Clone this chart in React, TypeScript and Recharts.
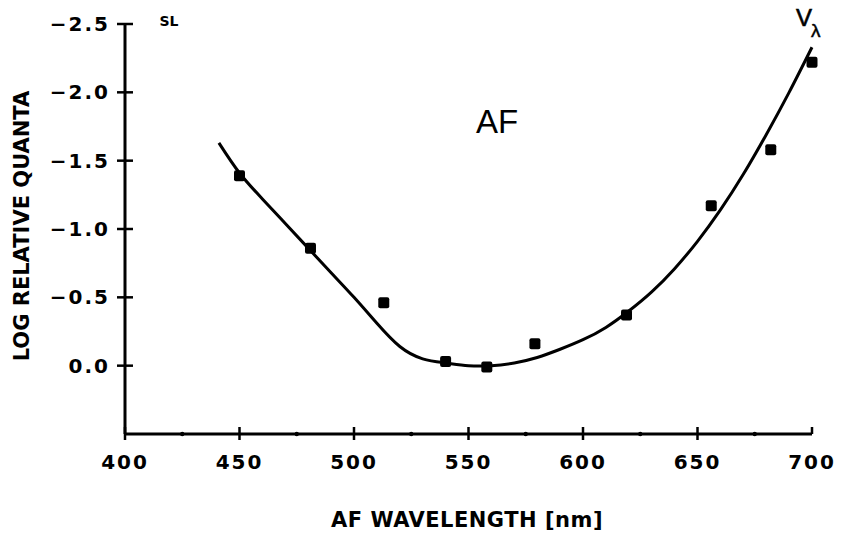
import {
  ComposedChart,
  Customized,
  Line,
  Scatter,
  XAxis,
  YAxis,
} from 'recharts'

// fitted curve
const curveNm = [441, 450, 460, 470, 480, 490, 500, 510, 520, 530, 540, 550, 560, 570, 580, 590, 600, 610, 620, 630, 640, 650, 660, 670, 680, 690, 700]
const curveLog = [-1.63, -1.41, -1.22, -1.04, -0.86, -0.68, -0.5, -0.31, -0.14, -0.05, -0.02, 0.0, 0.0, -0.02, -0.06, -0.12, -0.19, -0.28, -0.4, -0.54, -0.71, -0.91, -1.14, -1.4, -1.69, -2.0, -2.33]

// measured points
const pointNm = [450, 481, 513, 540, 558, 579, 619, 656, 682, 700]
const pointLog = [-1.39, -0.86, -0.46, -0.03, 0.01, -0.16, -0.37, -1.17, -1.58, -2.22]

const xTicks = [400, 425, 450, 475, 500, 525, 550, 575, 600, 625, 650, 675, 700]
const yTicks = [-2.5, -2.0, -1.5, -1.0, -0.5, 0.0]

const curve = curveNm.map((nm, i) => ({ nm, v: curveLog[i] }))
const points = pointNm.map((nm, i) => ({ nm, v: pointLog[i] }))

const FONT = '"DejaVu Sans", sans-serif'

const fmt = (v: number) => (v < 0 ? '\u2212' + Math.abs(v).toFixed(1) : v.toFixed(1))

function XTick({ x, y, payload }: any) {
  const v = payload.value as number
  if (v % 50 !== 0) {
    return <circle cx={x} cy={y} r={2.2} fill="#000" />
  }
  return (
    <g>
      <line x1={x} x2={x} y1={y - 7} y2={v === 700 ? y : y + 6} stroke="#000" strokeWidth={2.5} />
      <text
        x={x}
        y={y + 35}
        textAnchor="middle"
        fontFamily={FONT}
        fontWeight="bold"
        fontSize={20}
        letterSpacing={2}
        fill="#000"
      >
        {v}
      </text>
    </g>
  )
}

function YTick({ x, y, payload }: any) {
  const v = payload.value as number
  return (
    <g>
      <line x1={x - 8} x2={x + 8} y1={y} y2={y} stroke="#000" strokeWidth={2.5} />
      <text
        x={x - 15}
        y={y + 7}
        textAnchor="end"
        fontFamily={FONT}
        fontWeight="bold"
        fontSize={20}
        letterSpacing={2}
        fill="#000"
      >
        {fmt(v)}
      </text>
    </g>
  )
}

function Square({ cx, cy }: any) {
  return <rect x={cx - 5.5} y={cy - 5.5} width={11} height={11} rx={2} fill="#000" />
}

function Annotations() {
  return (
    <g fontFamily={FONT} fill="#000">
      <text
        x={22}
        y={226}
        transform="rotate(-90 22 226)"
        textAnchor="middle"
        dominantBaseline="central"
        fontWeight="bold"
        fontSize={21}
      >
        LOG RELATIVE QUANTA
      </text>
      <text x={467} y={527} textAnchor="middle" fontWeight="bold" fontSize={21} letterSpacing={0.5}>
        AF WAVELENGTH [nm]
      </text>
      <text x={497} y={133} textAnchor="middle" fontFamily='"Liberation Sans", sans-serif' fontSize={33}>
        AF
      </text>
      <text x={169} y={26} textAnchor="middle" fontWeight="bold" fontSize={14}>
        SL
      </text>
      <text x={796} y={26} fontFamily='"Liberation Sans", sans-serif' fontSize={24} stroke="#000" strokeWidth={0.6}>
        V
      </text>
      <text x={811} y={37} fontFamily='"Liberation Sans", sans-serif' fontSize={19} stroke="#000" strokeWidth={0.5}>
        λ
      </text>
    </g>
  )
}

export default function App() {
  return (
    <div style={{ position: 'absolute', left: 0, top: 0, width: 841, height: 541, background: '#fff' }}>
      <ComposedChart width={841} height={541} margin={{ top: 24, right: 29, bottom: 77, left: 65 }}>
        <XAxis
          type="number"
          dataKey="nm"
          domain={[400, 700]}
          ticks={xTicks}
          interval={0}
          tickLine={false}
          tickSize={0}
          tickMargin={0}
          tick={<XTick />}
          axisLine={{ stroke: '#000', strokeWidth: 3 }}
          height={30}
        />
        <YAxis
          type="number"
          dataKey="v"
          domain={[-2.5, 0.5]}
          reversed
          ticks={yTicks}
          interval={0}
          tickLine={false}
          tickSize={0}
          tickMargin={0}
          tick={<YTick />}
          axisLine={{ stroke: '#000', strokeWidth: 3 }}
          width={60}
        />
        <Line
          data={curve}
          dataKey="v"
          type="natural"
          stroke="#000"
          strokeWidth={3}
          dot={false}
          activeDot={false}
          isAnimationActive={false}
        />
        <Scatter data={points} dataKey="v" shape={<Square />} isAnimationActive={false} />
        <Customized component={Annotations} />
      </ComposedChart>
    </div>
  )
}
